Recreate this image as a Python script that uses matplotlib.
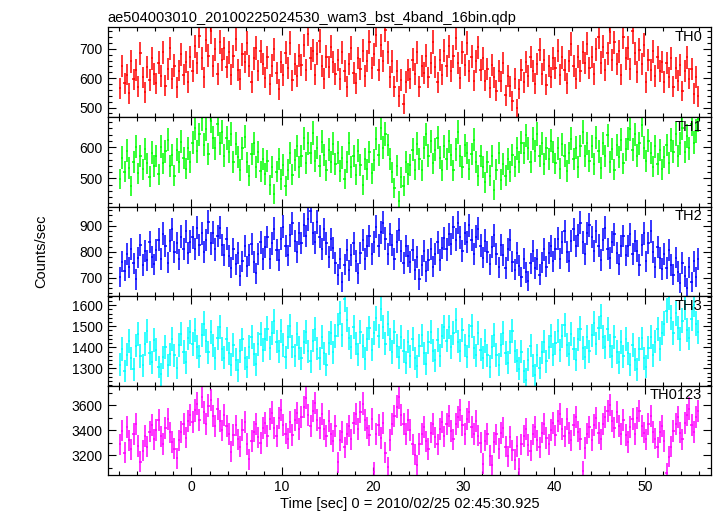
import numpy as np
import matplotlib
matplotlib.use("Agg")
import matplotlib.pyplot as plt
from matplotlib.ticker import MultipleLocator

title = "ae504003010_20100225024530_wam3_bst_4band_16bin.qdp"
xlabel = "Time [sec] 0 = 2010/02/25 02:45:30.925"
ylabel = "Counts/sec"

t_start = -8.0
bin_width = 0.25
exposure = 0.45

bands = ["TH0", "TH1", "TH2", "TH3", "TH0123"]

th0 = [
	566, 641, 583, 612, 548, 657, 596, 629, 571, 684, 603, 552, 638, 594, 667, 615,
	582, 653, 607, 689, 574, 631, 702, 598, 643, 569, 626, 681, 612, 655, 587, 672,
	624, 708, 651, 742, 668, 603, 731, 677, 759, 642, 698, 615, 724, 663, 701, 637,
	689, 612, 674, 733, 628, 596, 681, 655, 719, 642, 587, 668, 703, 626, 691, 648,
	602, 671, 579, 643, 698, 617, 562, 654, 611, 686, 634, 719, 593, 648, 607, 677,
	645, 712, 628, 751, 667, 694, 612, 683, 726, 641, 598, 673, 639, 707, 655, 614,
	662, 597, 689, 624, 571, 648, 703, 617, 582, 669, 631, 694, 608, 658, 723, 635,
	681, 746, 627, 712, 659, 763, 688, 604, 657, 571, 623, 538, 594, 512, 587, 629,
	598, 663, 614, 689, 571, 642, 618, 677, 603, 652, 724, 638, 586, 661, 612, 694,
	641, 708, 623, 674, 737, 652, 601, 688, 646, 719, 624, 673, 591, 657, 705, 628,
	667, 592, 631, 568, 646, 603, 557, 624, 589, 651, 541, 608, 573, 522, 598, 497,
	563, 628, 586, 654, 607, 672, 623, 581, 649, 697, 614, 662, 578, 641, 603, 668,
	636, 694, 612, 671, 628, 583, 659, 717, 641, 598, 673, 624, 689, 652, 718, 633,
	672, 614, 698, 741, 653, 707, 629, 684, 756, 661, 722, 647, 691, 612, 739, 668,
	703, 631, 759, 684, 622, 697, 648, 713, 586, 662, 628, 691, 607, 671, 623, 654,
	587, 652, 603, 668, 571, 634, 592, 645, 556, 623, 671, 598, 632, 547, 604, 538,
]

th1 = [
	498, 567, 521, 589, 534, 476, 553, 602, 517, 571, 529, 594, 548, 506, 583, 539,
	572, 513, 601, 548, 587, 624, 539, 576, 508, 592, 553, 618, 566, 531, 597, 552,
	614, 663, 587, 641, 692, 608, 657, 579, 683, 631, 596, 674, 612, 648, 573, 629,
	586, 642, 553, 611, 568, 527, 596, 634, 551, 509, 578, 612, 537, 584, 523, 562,
	514, 557, 478, 536, 449, 521, 562, 497, 543, 476, 528, 581, 512, 559, 604, 536,
	571, 628, 549, 613, 582, 645, 557, 598, 539, 617, 574, 526, 592, 553, 611, 547,
	583, 524, 567, 498, 552, 613, 536, 571, 511, 589, 542, 478, 561, 529, 584, 516,
	558, 627, 574, 661, 598, 643, 607, 562, 519, 468, 541, 428, 503, 476, 552, 514,
	543, 592, 528, 611, 562, 526, 598, 641, 573, 619, 548, 592, 631, 567, 526, 603,
	561, 619, 574, 526, 593, 648, 571, 537, 606, 582, 529, 578, 624, 553, 509, 571,
	536, 487, 552, 509, 571, 463, 528, 582, 496, 547, 508, 563, 521, 574, 538, 597,
	552, 614, 581, 638, 596, 553, 627, 588, 642, 571, 613, 546, 597, 563, 621, 584,
	548, 596, 531, 609, 573, 524, 582, 627, 561, 598, 537, 604, 649, 572, 613, 556,
	603, 546, 631, 587, 534, 612, 571, 638, 553, 594, 528, 607, 569, 624, 548, 593,
	627, 658, 592, 641, 573, 612, 671, 598, 556, 621, 581, 538, 603, 547, 591, 529,
	568, 607, 549, 623, 586, 642, 571, 613, 662, 584, 636, 597, 673, 614, 652, 689,
]

th2 = [
	703, 762, 728, 791, 741, 812, 756, 694, 778, 826, 749, 803, 767, 838, 781, 752,
	806, 847, 773, 869, 821, 758, 843, 886, 798, 834, 771, 858, 812, 879, 794, 839,
	856, 812, 893, 827, 871, 798, 846, 914, 832, 874, 809, 861, 893, 827, 788, 851,
	784, 739, 812, 752, 796, 708, 763, 821, 744, 787, 829, 761, 718, 793, 836, 772,
	818, 857, 774, 832, 889, 806, 768, 851, 897, 823, 786, 864, 909, 842, 801, 872,
	834, 903, 861, 927, 958, 872, 836, 914, 858, 811, 886, 832, 779, 848, 813, 757,
	712, 774, 683, 751, 806, 729, 788, 832, 764, 718, 797, 846, 773, 821, 861, 792,
	838, 897, 824, 876, 912, 851, 793, 868, 826, 772, 839, 884, 803, 757, 821, 784,
	761, 806, 732, 779, 694, 748, 803, 726, 769, 812, 743, 791, 836, 768, 814, 852,
	809, 867, 831, 894, 847, 912, 856, 803, 871, 837, 902, 846, 791, 858, 889, 824,
	778, 843, 801, 752, 819, 864, 793, 741, 826, 787, 738, 809, 846, 762, 731, 794,
	746, 703, 774, 721, 689, 756, 802, 738, 771, 712, 758, 809, 743, 797, 821, 763,
	812, 851, 774, 836, 879, 798, 763, 842, 887, 821, 864, 912, 836, 791, 872, 903,
	857, 803, 879, 824, 768, 847, 893, 812, 776, 838, 867, 794, 752, 823, 861, 786,
	823, 867, 791, 842, 804, 749, 826, 871, 763, 834, 879, 798, 741, 818, 776, 734,
	792, 738, 806, 749, 712, 778, 723, 681, 757, 706, 662, 741, 684, 763, 703, 772,
]

th3 = [
	1318, 1392, 1287, 1364, 1431, 1347, 1296, 1408, 1462, 1359, 1314, 1417, 1478, 1373, 1328, 1436,
	1389, 1306, 1271, 1352, 1401, 1314, 1367, 1438, 1362, 1301, 1411, 1463, 1378, 1329, 1442, 1471,
	1416, 1483, 1402, 1358, 1457, 1512, 1431, 1376, 1474, 1409, 1348, 1446, 1497, 1392, 1351, 1438,
	1371, 1318, 1412, 1342, 1291, 1382, 1437, 1348, 1306, 1401, 1449, 1366, 1319, 1417, 1462, 1388,
	1437, 1489, 1396, 1468, 1523, 1427, 1381, 1479, 1412, 1352, 1448, 1501, 1403, 1361, 1461, 1396,
	1347, 1426, 1473, 1381, 1334, 1432, 1486, 1394, 1349, 1447, 1371, 1318, 1419, 1468, 1376, 1452,
	1507, 1563, 1458, 1628, 1531, 1442, 1401, 1496, 1418, 1366, 1472, 1407, 1346, 1438, 1493, 1389,
	1468, 1537, 1452, 1583, 1496, 1418, 1512, 1437, 1378, 1471, 1406, 1352, 1451, 1382, 1326, 1427,
	1358, 1441, 1347, 1309, 1408, 1456, 1371, 1322, 1423, 1472, 1384, 1338, 1436, 1361, 1452, 1497,
	1432, 1496, 1401, 1468, 1528, 1427, 1384, 1481, 1409, 1356, 1452, 1502, 1398, 1362, 1467, 1389,
	1351, 1431, 1362, 1308, 1402, 1457, 1363, 1318, 1412, 1468, 1373, 1327, 1424, 1479, 1381, 1336,
	1298, 1379, 1286, 1247, 1341, 1408, 1312, 1268, 1362, 1301, 1376, 1427, 1333, 1402, 1452, 1364,
	1421, 1478, 1386, 1453, 1507, 1412, 1368, 1461, 1394, 1341, 1437, 1489, 1396, 1352, 1448, 1381,
	1456, 1513, 1418, 1492, 1547, 1448, 1402, 1488, 1407, 1358, 1451, 1378, 1329, 1426, 1357, 1441,
	1372, 1318, 1412, 1341, 1296, 1393, 1442, 1349, 1308, 1398, 1451, 1362, 1427, 1487, 1392, 1468,
	1512, 1574, 1638, 1541, 1467, 1562, 1493, 1438, 1527, 1589, 1481, 1442, 1536, 1603, 1512, 1473,
]

th0123 = [
	3286, 3397, 3221, 3428, 3318, 3247, 3371, 3452, 3273, 3148, 3236, 3354, 3268, 3389, 3441, 3327,
	3402, 3478, 3351, 3289, 3416, 3492, 3382, 3306, 3251, 3174, 3318, 3387, 3446, 3341, 3472, 3521,
	3467, 3558, 3612, 3481, 3668, 3542, 3453, 3597, 3641, 3512, 3437, 3568, 3476, 3398, 3523, 3436,
	3372, 3229, 3361, 3438, 3327, 3268, 3403, 3462, 3291, 3167, 3312, 3389, 3447, 3342, 3298, 3416,
	3461, 3352, 3489, 3541, 3418, 3356, 3497, 3563, 3441, 3373, 3332, 3468, 3364, 3482, 3537, 3412,
	3508, 3583, 3657, 3521, 3437, 3556, 3618, 3482, 3418, 3531, 3406, 3352, 3473, 3368, 3314, 3431,
	3142, 3318, 3386, 3262, 3372, 3437, 3326, 3461, 3527, 3408, 3548, 3612, 3483, 3416, 3358, 3491,
	3064, 3372, 3443, 3338, 3456, 3221, 3102, 3321, 3447, 3512, 3589, 3663, 3521, 3448, 3371, 3478,
	3402, 3286, 3203, 3118, 3291, 3372, 3428, 3311, 3249, 3381, 3446, 3342, 3287, 3412, 3463, 3351,
	3447, 3512, 3392, 3326, 3446, 3503, 3561, 3438, 3372, 3487, 3546, 3426, 3368, 3472, 3357, 3301,
	3132, 3316, 3372, 3197, 3118, 3302, 3367, 3252, 3378, 3421, 3268, 3193, 3346, 3238, 3162, 3271,
	3091, 3286, 3353, 3408, 3283, 3236, 3367, 3428, 3318, 3262, 3381, 3446, 3339, 3287, 3403, 3461,
	3358, 3472, 3531, 3407, 3351, 3487, 3376, 3318, 3442, 3502, 3389, 3331, 3072, 3258, 3373, 3427,
	3322, 3443, 3497, 3378, 3326, 3451, 3508, 3556, 3603, 3474, 3421, 3548, 3431, 3372, 3478, 3361,
	3307, 3428, 3491, 3372, 3497, 3552, 3431, 3381, 3326, 3452, 3512, 3387, 3333, 3262, 3383, 3436,
	3312, 3058, 3186, 3268, 3392, 3451, 3508, 3381, 3326, 3457, 3521, 3573, 3441, 3386, 3502, 3556,
]

rates = [th0, th1, th2, th3, th0123]
colors = ["#ff0000", "#00ff00", "#0000ff", "#00ffff", "#ff00ff"]
ylims = [(468, 773), (410, 697), (630, 974), (1218, 1643), (3040, 3756)]
ymajor = [100, 100, 100, 100, 200]
yminor = [20, 20, 20, 20, 100]

plt.rcParams['font.family'] = ['Liberation Sans', 'DejaVu Sans']
plt.rcParams['font.size'] = 10

fig, axes = plt.subplots(5, 1, sharex=True, figsize=(7.17, 5.16), dpi=100)
fig.subplots_adjust(left=0.150, right=0.992, top=0.947, bottom=0.079, hspace=0)

for ax, band, rate, color, ylim, ma, mi in zip(axes, bands, rates, colors, ylims, ymajor, yminor):
	rate = np.array(rate, dtype=float)
	t = t_start + bin_width * (np.arange(len(rate)) + 0.5)
	err = np.sqrt(rate / exposure)
	ax.errorbar(t, rate, xerr=bin_width / 2, yerr=err, fmt='none',
		ecolor=color, elinewidth=1.1, capsize=0)
	ax.set_ylim(*ylim)
	ax.yaxis.set_major_locator(MultipleLocator(ma))
	ax.yaxis.set_minor_locator(MultipleLocator(mi))
	ax.xaxis.set_major_locator(MultipleLocator(10))
	ax.xaxis.set_minor_locator(MultipleLocator(2))
	ax.tick_params(which='both', direction='in', top=True, right=True, width=0.8, labelsize=10)
	ax.tick_params(which='major', length=6)
	ax.tick_params(which='minor', length=3)
	for s in ax.spines.values():
		s.set_linewidth(0.9)
	ax.text(0.985, 0.97, band, transform=ax.transAxes, ha='right', va='top', fontsize=10.5)

axes[0].set_xlim(-9.25, 57.3)
axes[0].set_title(title, loc='left', fontsize=10.5, pad=4)
axes[-1].set_xlabel(xlabel, fontsize=10.5, labelpad=2)
fig.text(0.058, 0.514, ylabel, rotation=90, ha='center', va='center', fontsize=10.5)

fig.savefig("out.png", dpi=100)
